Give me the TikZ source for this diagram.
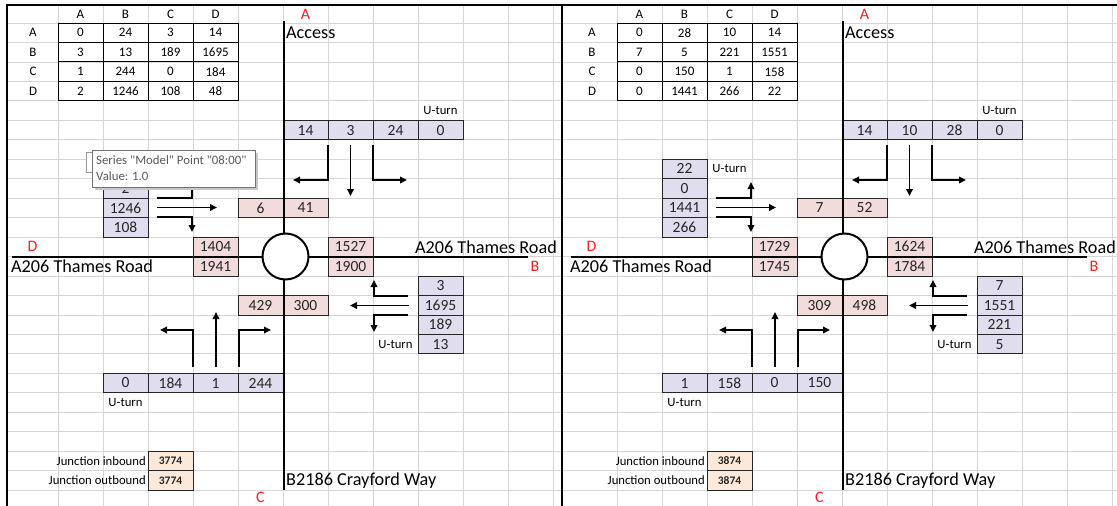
\documentclass[tikz,border=0pt]{standalone}
\usepackage{fontspec}
\setmainfont{Carlito}
\usepackage{xcolor}
\usetikzlibrary{arrows.meta}

\definecolor{gridgray}{RGB}{214,214,214}
\definecolor{inflow}{RGB}{224,222,238}
\definecolor{outflow}{RGB}{242,220,219}
\definecolor{totalfill}{RGB}{253,233,217}
\definecolor{letterred}{RGB}{255,28,28}
\definecolor{tiptext}{RGB}{90,90,90}

\newcommand{\cellsize}{\fontsize{15.5}{18}\selectfont}
\newcommand{\tabsize}{\fontsize{13}{15}\selectfont}
\newcommand{\roadsize}{\fontsize{18.2}{21}\selectfont}
\newcommand{\redsize}{\fontsize{16}{18}\selectfont}
\font\tipfont="Carlito" at 12.8pt

\tikzset{
  cellbox/.style={draw=black!85, line width=0.8pt, minimum width=45pt,
    minimum height=19.46pt, inner sep=0pt, text=black!85, font=\cellsize},
  inbox/.style={cellbox, fill=inflow},
  outbox/.style={cellbox, fill=outflow},
  totbox/.style={cellbox, fill=totalfill, font=\fontsize{11.5}{13}\selectfont\bfseries},
  tabbox/.style={draw=black, line width=1pt, minimum width=45pt,
    minimum height=19.46pt, inner sep=0pt, font=\tabsize},
  tablabel/.style={inner sep=0pt, font=\tabsize},
  roadname/.style={inner sep=1pt, font=\roadsize},
  arm/.style={text=letterred, inner sep=0pt, font=\redsize},
  uturn/.style={inner sep=0pt, font=\fontsize{12.7}{14}\selectfont},
  road/.style={line width=2pt},
  movement/.style={line width=1.8pt, -{Triangle[length=7pt,width=6.5pt]}},
}

\begin{document}
\begin{tikzpicture}[x=1pt, y=-1pt]
  \useasboundingbox (0,0) rectangle (1117,506);
  \fill[white] (0,0) rectangle (1117,506);

  % sheet grid
  \foreach \k in {0,...,24}
    \draw[gridgray, line width=0.8pt] (7,{23+19.46*\k}) -- (1117,{23+19.46*\k});
  \foreach \dx in {0,559}
    \foreach \n in {0,...,11}
      \draw[gridgray, line width=0.8pt] ({58+45*\n+\dx},5) -- ({58+45*\n+\dx},506);

  % frames of the two screenshots
  \draw[line width=2.4pt] (7,506) -- (7,5) -- (1117,5);
  \draw[line width=2.2pt] (562,5) -- (562,506);

  % origin-destination tables
  \foreach \dx/\r/\va/\vb/\vc/\vd in {
    0/1/0/24/3/14, 0/2/3/13/189/1695, 0/3/1/244/0/184, 0/4/2/1246/108/48,
    559/1/0/28/10/14, 559/2/7/5/221/1551, 559/3/0/150/1/158, 559/4/0/1441/266/22
  }{
    \foreach \c/\v in {1/\va, 2/\vb, 3/\vc, 4/\vd}
      \node[tabbox] (tab-\dx-\r-\c) at ({35.5+45*\c+\dx},{13.27+19.46*\r}) {\v};
  }
  \foreach \dx in {0,559}{
    \foreach \l [count=\i] in {A,B,C,D}{
      \node[tablabel] (row-\dx-\l) at ({33+\dx},{13.27+19.46*\i}) {\l};
      \node[tablabel] (col-\dx-\l) at ({35.5+45*\i+\dx},14) {\l};
    }
  }

  % approach flows
  \foreach \dx/\c/\r/\v in {
    0/6/6/14, 0/7/6/3, 0/8/6/24, 0/9/6/0,
    0/2/9/2, 0/2/10/1246, 0/2/11/108,
    0/9/14/3, 0/9/15/1695, 0/9/16/189, 0/9/17/13,
    0/2/19/0, 0/3/19/184, 0/4/19/1, 0/5/19/244,
    559/6/6/14, 559/7/6/10, 559/8/6/28, 559/9/6/0,
    559/2/8/22, 559/2/9/0, 559/2/10/1441, 559/2/11/266,
    559/9/14/7, 559/9/15/1551, 559/9/16/221, 559/9/17/5,
    559/2/19/1, 559/3/19/158, 559/4/19/0, 559/5/19/150
  }
    \node[inbox] (in-\dx-\c-\r) at ({35.5+45*\c+\dx},{13.27+19.46*\r}) {\v};

  % exit flows
  \foreach \dx/\c/\r/\v in {
    0/5/10/6, 0/6/10/41, 0/4/12/1404, 0/4/13/1941,
    0/7/12/1527, 0/7/13/1900, 0/5/15/429, 0/6/15/300,
    559/5/10/7, 559/6/10/52, 559/4/12/1729, 559/4/13/1745,
    559/7/12/1624, 559/7/13/1784, 559/5/15/309, 559/6/15/498
  }
    \node[outbox] (out-\dx-\c-\r) at ({35.5+45*\c+\dx},{13.27+19.46*\r}) {\v};

  % junction totals
  \foreach \dx/\r/\v in {0/23/3774, 0/24/3774, 559/23/3874, 559/24/3874}
    \node[totbox] (tot-\dx-\r) at ({170.5+\dx},{13.27+19.46*\r}) {\v};

  \foreach \dx in {0,559}{
    \begin{scope}[xshift=\dx]
      % roads and roundabout
      \draw[road] (284,21) -- (284,490);
      \draw[road] (12,256.5) -- (528,256.5);
      \draw[road, fill=white] (285.5,256.5) circle[radius=23pt];

      % turning movements
      \draw[movement] (328,145) |- (293,180);
      \draw[movement] (350.5,145) -- (350.5,196);
      \draw[movement] (373,145) |- (407,180);
      \draw[movement] (157,198) -| (192,182);
      \draw[movement] (157,207.5) -- (217,207.5);
      \draw[movement] (157,217) -| (192,232);
      \draw[movement] (408,296) -| (374,280);
      \draw[movement] (409,305.5) -- (350,305.5);
      \draw[movement] (408,315) -| (374,332);
      \draw[movement] (193,367) |- (160,330);
      \draw[movement] (216,367) -- (216,312);
      \draw[movement] (239,367) |- (271,330);

      % labels
      \node[arm] (armA-\dx) at (305.5,14) {A};
      \node[arm] (armB-\dx) at (535,266.2) {B};
      \node[arm] (armC-\dx) at (260.5,497) {C};
      \node[arm] (armD-\dx) at (32.5,246.8) {D};
      \node[roadname, anchor=west] (access-\dx) at (285,32.7) {Access};
      \node[roadname, anchor=west] (west-\dx) at (10,266.2) {A206 Thames Road};
      \node[roadname, anchor=east] (east-\dx) at (558,246.8) {A206 Thames Road};
      \node[roadname, anchor=west] (south-\dx) at (285,480.3) {B2186 Crayford Way};
      \node[uturn] (un-\dx) at (440.5,110.6) {U-turn};
      \node[uturn] (ue-\dx) at (395.5,344.1) {U-turn};
      \node[uturn] (us-\dx) at (125.5,402.5) {U-turn};
      \node[uturn, anchor=east] (jin-\dx) at (146,460.8) {Junction inbound};
      \node[uturn, anchor=east] (jout-\dx) at (146,480.3) {Junction outbound};
    \end{scope}
  }
  \node[uturn] (uw-559) at (729.5,168.9) {U-turn};

  % chart tooltip over the left sheet
  \fill[black!22] (95,153) rectangle (258,190);
  \draw[black!40, fill=white] (86,152) rectangle (100,172);
  \draw[black!55, fill=white] (92,150) rectangle (255,187);
  \node[anchor=base west, inner sep=0pt, text=tiptext, font=\tipfont] (tip1) at (96,164.5) {Series "Model" Point "08:00"};
  \node[anchor=base west, inner sep=0pt, text=tiptext, font=\tipfont] (tip2) at (96,180) {Value: 1.0};
\end{tikzpicture}
\end{document}
